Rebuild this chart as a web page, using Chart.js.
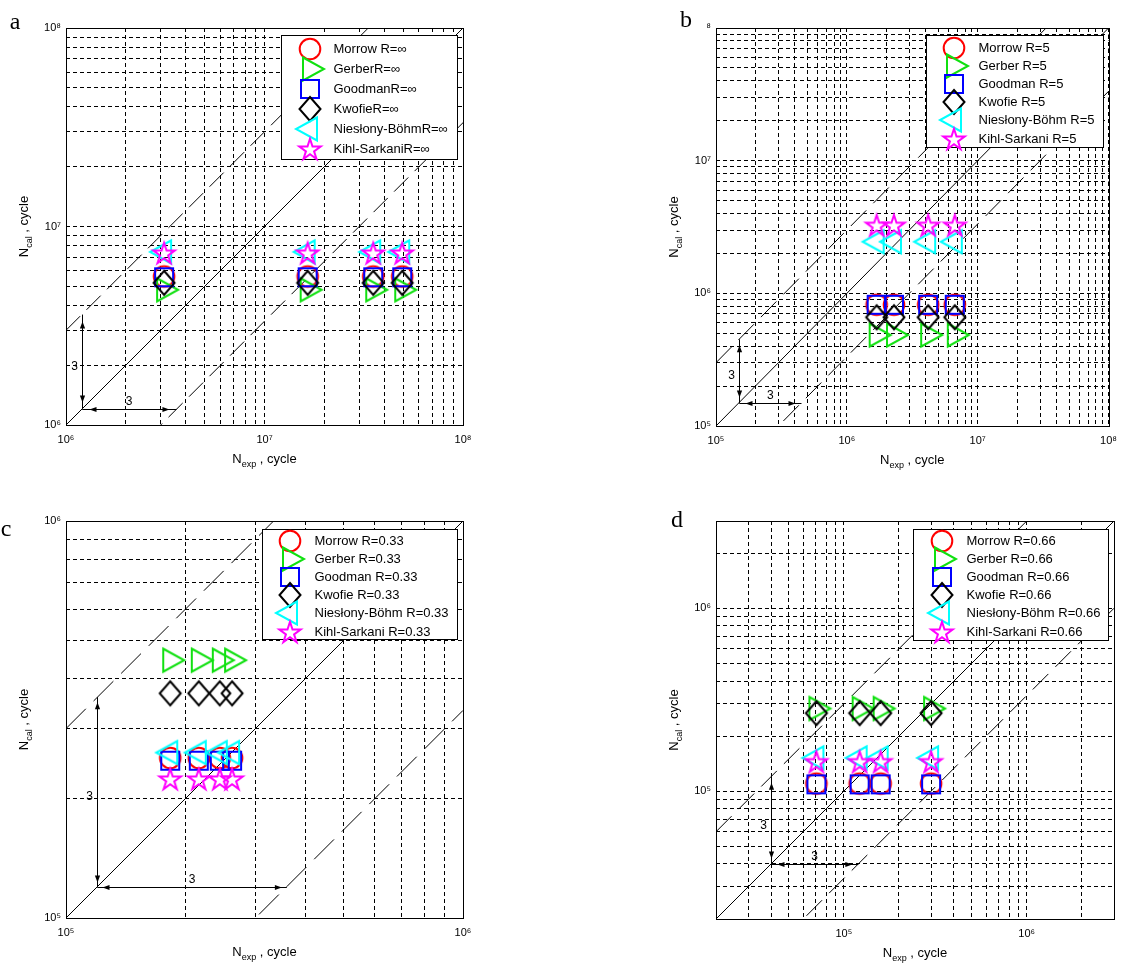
<!DOCTYPE html>
<html>
<head>
<meta charset="utf-8">
<script src="https://cdn.jsdelivr.net/npm/chart.js@4.4.1/dist/chart.umd.min.js"></script>
<style>
  html, body { margin: 0; padding: 0; background: #fff; }
  body { width: 1125px; height: 963px; position: relative; overflow: hidden; }
  canvas { position: absolute; }
</style>
</head>
<body>
<canvas id="pa"></canvas>
<canvas id="pb"></canvas>
<canvas id="pc"></canvas>
<canvas id="pd"></canvas>
<script>
// ---------- data: calculated vs experimental life, four mean-stress ratios ----------
const methodNames = ['Morrow', 'Gerber', 'Goodman', 'Kwofie', 'Niesłony-Böhm', 'Kihl-Sarkani'];

// (a) R = ∞
const expA     = [3.12e6, 1.65e7, 3.53e7, 4.94e7];
const morrowA  = [5.6e6, 5.6e6, 5.6e6, 5.6e6];
const gerberA  = [4.8e6, 4.8e6, 4.8e6, 4.8e6];
const goodmanA = [5.55e6, 5.55e6, 5.55e6, 5.55e6];
const kwofieA  = [5.2e6, 5.2e6, 5.2e6, 5.2e6];
const nbA      = [7.45e6, 7.45e6, 7.45e6, 7.45e6];
const ksA      = [7.35e6, 7.35e6, 7.35e6, 7.35e6];
const legendA  = ['Morrow R=∞', 'GerberR=∞', 'GoodmanR=∞', 'KwofieR=∞', 'Niesłony-BöhmR=∞', 'Kihl-SarkaniR=∞'];
const xRangeA = [1e6, 1e8], yRangeA = [1e6, 1e8];
const xTickValsA = [1e6, 1e7, 1e8], xTickLabelsA = ['10⁶', '10⁷', '10⁸'];
const yTickValsA = [1e6, 1e7, 1e8], yTickLabelsA = ['10⁶', '10⁷', '10⁸'];
const bandBaseA = 1.2e6;

// (b) R = 5
const expB     = [1.69e6, 2.29e6, 4.18e6, 6.68e6];
const morrowB  = [8.2e5, 8.2e5, 8.2e5, 8.2e5];
const gerberB  = [4.85e5, 4.85e5, 4.85e5, 4.85e5];
const goodmanB = [8.2e5, 8.2e5, 8.2e5, 8.2e5];
const kwofieB  = [6.6e5, 6.6e5, 6.6e5, 6.6e5];
const nbB      = [2.45e6, 2.45e6, 2.45e6, 2.45e6];
const ksB      = [3.26e6, 3.26e6, 3.26e6, 3.26e6];
const legendB  = ['Morrow R=5', 'Gerber R=5', 'Goodman R=5', 'Kwofie R=5', 'Niesłony-Böhm R=5', 'Kihl-Sarkani R=5'];
const xRangeB = [1e5, 1e8], yRangeB = [1e5, 1e8];
const xTickValsB = [1e5, 1e6, 1e7, 1e8], xTickLabelsB = ['10⁵', '10⁶', '10⁷', '10⁸'];
const yTickValsB = [1e5, 1e6, 1e7, 1e8], yTickLabelsB = ['10⁵', '10⁶', '10⁷', '⁸'];
const bandBaseB = 1.5e5;

// (c) R = 0.33
const expC     = [1.83e5, 2.16e5, 2.44e5, 2.62e5];
const morrowC  = [2.53e5, 2.53e5, 2.53e5, 2.53e5];
const gerberC  = [4.46e5, 4.46e5, 4.46e5, 4.46e5];
const goodmanC = [2.49e5, 2.49e5, 2.49e5, 2.49e5];
const kwofieC  = [3.68e5, 3.68e5, 3.68e5, 3.68e5];
const nbC      = [2.61e5, 2.61e5, 2.61e5, 2.61e5];
const ksC      = [2.24e5, 2.24e5, 2.24e5, 2.24e5];
const legendC  = ['Morrow R=0.33', 'Gerber R=0.33', 'Goodman R=0.33', 'Kwofie R=0.33', 'Niesłony-Böhm R=0.33', 'Kihl-Sarkani R=0.33'];
const xRangeC = [1e5, 1e6], yRangeC = [1e5, 1e6];
const xTickValsC = [1e5, 1e6], xTickLabelsC = ['10⁵', '10⁶'];
const yTickValsC = [1e5, 1e6], yTickLabelsC = ['10⁵', '10⁶'];
const bandBaseC = 1.2e5;

// (d) R = 0.66
const expD     = [7.08e4, 1.22e5, 1.59e5, 3.0e5];
const morrowD  = [1.1e5, 1.1e5, 1.1e5, 1.1e5];
const gerberD  = [2.83e5, 2.83e5, 2.83e5, 2.83e5];
const goodmanD = [1.09e5, 1.09e5, 1.09e5, 1.09e5];
const kwofieD  = [2.67e5, 2.67e5, 2.67e5, 2.67e5];
const nbD      = [1.52e5, 1.52e5, 1.52e5, 1.52e5];
const ksD      = [1.45e5, 1.45e5, 1.45e5, 1.45e5];
const legendD  = ['Morrow R=0.66', 'Gerber R=0.66', 'Goodman R=0.66', 'Kwofie R=0.66', 'Niesłony-Böhm R=0.66', 'Kihl-Sarkani R=0.66'];
const xRangeD = [2e4, 3e6], yRangeD = [2e4, 3e6];
const xTickValsD = [1e5, 1e6], xTickLabelsD = ['10⁵', '10⁶'];
const yTickValsD = [1e5, 1e6], yTickLabelsD = ['10⁵', '10⁶'];
const bandBaseD = 4e4;

const scatterFactor = 3;   // the ±3 life band

// ---------- styling ----------
const FONT  = '"Liberation Sans", "DejaVu Sans", Arial, sans-serif';
const SERIF = '"Liberation Serif", "DejaVu Serif", "Times New Roman", serif';
const COLORS = ['#ff0000', '#10e010', '#0000ff', '#000000', '#00ffff', '#ff00ff'];
const SHAPES = ['o', '>', 's', 'd', '<', 'p'];

// open marker glyphs in the classic plotting style
function markerCanvas(kind, color) {
  const S = 34, m = S / 2;
  const c = document.createElement('canvas');
  c.width = S; c.height = S;
  const g = c.getContext('2d');
  g.strokeStyle = color; g.lineWidth = 2; g.lineJoin = 'miter';
  g.beginPath();
  if (kind === 'o') {
    g.arc(m, m, 10.3, 0, Math.PI * 2);
  } else if (kind === 's') {
    g.rect(m - 9, m - 9, 18, 18);
  } else if (kind === 'd') {
    g.moveTo(m, m - 12); g.lineTo(m + 10.5, m); g.lineTo(m, m + 12); g.lineTo(m - 10.5, m); g.closePath();
  } else if (kind === '>' || kind === '<') {
    const L = 21, hb = 11.5, s = kind === '>' ? 1 : -1;
    g.moveTo(m - s * L / 3, m - hb); g.lineTo(m + s * 2 * L / 3, m); g.lineTo(m - s * L / 3, m + hb); g.closePath();
  } else if (kind === 'p') {
    const R = 11.2, r = R * 0.382;
    for (let i = 0; i < 10; i++) {
      const a = -Math.PI / 2 + i * Math.PI / 5, rr = i % 2 ? r : R;
      const x = m + rr * Math.cos(a), y = m + 1 + rr * Math.sin(a);
      i ? g.lineTo(x, y) : g.moveTo(x, y);
    }
    g.closePath();
  }
  g.stroke();
  return c;
}
const MARKERS = SHAPES.map((s, i) => markerCanvas(s, COLORS[i]));

function gridValues(lo, hi) {
  const out = [];
  for (let e = Math.floor(Math.log10(lo)); e <= Math.ceil(Math.log10(hi)); e++) {
    for (let k = 1; k <= 9; k++) {
      const v = k * Math.pow(10, e);
      if (v >= lo * 0.999 && v <= hi * 1.001) out.push(v);
    }
  }
  return out;
}

function logAxis(range, tickVals, tickLabels, isX, size) {
  return {
    type: 'logarithmic', min: range[0], max: range[1],
    afterBuildTicks: s => { s.ticks = gridValues(range[0], range[1]).map(v => ({ value: v })); },
    afterFit: s => { if (isX) s.height = size; else s.width = size; },
    ticks: {
      autoSkip: false, maxRotation: 0, minRotation: 0,
      padding: isX ? 8 : 5, color: '#000',
      font: { family: FONT, size: 11 },
      callback: v => {
        const i = tickVals.findIndex(t => Math.abs(t / v - 1) < 1e-6);
        return i < 0 ? '' : tickLabels[i];
      }
    },
    grid: { color: '#000', lineWidth: 1, drawTicks: false },
    border: { display: false, dash: [4, 3] }
  };
}

function drawArrowHead(ctx, tx, ty, dx, dy) {
  const L = 7, W = 2.6;
  const bx = tx - dx * L, by = ty - dy * L;
  ctx.beginPath();
  ctx.moveTo(tx, ty);
  ctx.lineTo(bx - dy * W, by + dx * W);
  ctx.lineTo(bx + dy * W, by - dx * W);
  ctx.closePath();
  ctx.fill();
}

function drawAxisTitle(ctx, x, y, sub, vertical) {
  ctx.save();
  ctx.font = `13px ${FONT}`;
  const wN = ctx.measureText('N').width, wT = ctx.measureText(' , cycle').width;
  ctx.font = `9px ${FONT}`;
  const wS = ctx.measureText(sub).width;
  ctx.translate(x, y);
  if (vertical) ctx.rotate(-Math.PI / 2);
  ctx.fillStyle = '#000'; ctx.textAlign = 'left'; ctx.textBaseline = 'alphabetic';
  let cx = -(wN + wS + wT) / 2;
  ctx.font = `13px ${FONT}`; ctx.fillText('N', cx, 0); cx += wN;
  ctx.font = `9px ${FONT}`; ctx.fillText(sub, cx, 4); cx += wS;
  ctx.font = `13px ${FONT}`; ctx.fillText(' , cycle', cx, 0);
  ctx.restore();
}

// frame, ±3 band arrows, boxed legend, titles and panel letter
function panelDecor(p) {
  return {
    id: 'decor' + p.id,
    beforeDatasetsDraw(chart) {
      const { ctx, scales: { x, y } } = chart;
      const b = p.band;
      const px = Math.round(x.getPixelForValue(b)) + 0.5, py = Math.round(y.getPixelForValue(b)) + 0.5;
      const px3 = x.getPixelForValue(b * scatterFactor), py3 = y.getPixelForValue(b * scatterFactor);
      ctx.save();
      ctx.strokeStyle = '#000'; ctx.fillStyle = '#000'; ctx.lineWidth = 1;
      ctx.beginPath();
      ctx.moveTo(px, py); ctx.lineTo(px, py3);
      ctx.moveTo(px, py); ctx.lineTo(px3, py);
      ctx.stroke();
      const inset = p.arrowInset;
      drawArrowHead(ctx, px, py3 + inset, 0, -1);
      drawArrowHead(ctx, px, py - inset, 0, 1);
      drawArrowHead(ctx, px + inset, py, -1, 0);
      drawArrowHead(ctx, px3 - inset, py, 1, 0);
      const midX = x.getPixelForValue(b * Math.sqrt(scatterFactor));
      const midY = y.getPixelForValue(b * Math.sqrt(scatterFactor));
      ctx.font = `12px ${FONT}`; ctx.textAlign = 'center'; ctx.textBaseline = 'middle';
      ctx.fillText('3', px - 8, midY + 5);
      ctx.fillText('3', midX, py - 8);
      ctx.restore();
    },
    afterDatasetsDraw(chart) {
      const { ctx, chartArea: a } = chart;
      ctx.save();
      // axes box
      ctx.strokeStyle = '#000'; ctx.lineWidth = 1;
      ctx.strokeRect(Math.round(a.left) + 0.5, Math.round(a.top) + 0.5,
                     Math.round(a.right) - Math.round(a.left), Math.round(a.bottom) - Math.round(a.top));
      // legend box
      const L = p.legend;
      const bx1 = Math.round(a.right - L.inset) + 0.5, by0 = Math.round(a.top + L.top) + 0.5;
      const bx0 = bx1 - L.width, by1 = by0 + L.height;
      ctx.fillStyle = '#fff';
      ctx.fillRect(bx0, by0, L.width, L.height);
      ctx.strokeRect(bx0, by0, L.width, L.height);
      ctx.font = `13px ${FONT}`; ctx.fillStyle = '#000';
      ctx.textAlign = 'left'; ctx.textBaseline = 'middle';
      p.labels.forEach((t, k) => {
        const ry = by0 + L.row0 + k * L.step;
        const img = MARKERS[k];
        ctx.drawImage(img, Math.round(bx0 + L.mark - img.width / 2), Math.round(ry - img.height / 2));
        ctx.fillText(t, bx0 + L.text, ry + 0.5);
      });
      ctx.restore();
    },
    afterDraw(chart) {
      const { ctx, chartArea: a } = chart;
      drawAxisTitle(ctx, (a.left + a.right) / 2, a.bottom + 38, 'exp', false);
      drawAxisTitle(ctx, a.left - 38, (a.top + a.bottom) / 2, 'cal', true);
      ctx.save();
      ctx.font = `24px ${SERIF}`; ctx.fillStyle = '#000';
      ctx.textAlign = 'center'; ctx.textBaseline = 'alphabetic';
      ctx.fillText(p.letter, p.letterPos[0], p.letterPos[1]);
      ctx.restore();
    }
  };
}

const panels = [
  { id: 'pa', letter: 'a', box: [0, 0, 562, 481], area: [66, 28, 463, 425],
    exp: expA, series: [morrowA, gerberA, goodmanA, kwofieA, nbA, ksA], labels: legendA,
    xr: xRangeA, yr: yRangeA, xtv: xTickValsA, xtl: xTickLabelsA, ytv: yTickValsA, ytl: yTickLabelsA,
    band: bandBaseA, dash: [20, 9], arrowInset: 7, letterPos: [15, 29],
    legend: { inset: 6, top: 7, width: 176, height: 124, row0: 13, step: 20.1, mark: 28, text: 52 } },
  { id: 'pb', letter: 'b', box: [562, 0, 563, 481], area: [716, 28, 1114, 426],
    exp: expB, series: [morrowB, gerberB, goodmanB, kwofieB, nbB, ksB], labels: legendB,
    xr: xRangeB, yr: yRangeB, xtv: xTickValsB, xtl: xTickLabelsB, ytv: yTickValsB, ytl: yTickLabelsB,
    band: bandBaseB, dash: [22, 10], arrowInset: 6, letterPos: [124, 27],
    legend: { inset: 6, top: 7, width: 177, height: 112, row0: 12, step: 18.2, mark: 27.5, text: 52 } },
  { id: 'pc', letter: 'c', box: [0, 481, 562, 482], area: [66, 521, 463, 918],
    exp: expC, series: [morrowC, gerberC, goodmanC, kwofieC, nbC, ksC], labels: legendC,
    xr: xRangeC, yr: yRangeC, xtv: xTickValsC, xtl: xTickLabelsC, ytv: yTickValsC, ytl: yTickLabelsC,
    band: bandBaseC, dash: [28, 11], arrowInset: 5, letterPos: [6, 55],
    legend: { inset: 6, top: 8, width: 195, height: 110, row0: 11, step: 18.2, mark: 27.5, text: 52 } },
  { id: 'pd', letter: 'd', box: [562, 481, 563, 482], area: [716, 521, 1114, 919],
    exp: expD, series: [morrowD, gerberD, goodmanD, kwofieD, nbD, ksD], labels: legendD,
    xr: xRangeD, yr: yRangeD, xtv: xTickValsD, xtl: xTickLabelsD, ytv: yTickValsD, ytl: yTickLabelsD,
    band: bandBaseD, dash: [22, 10], arrowInset: 6, letterPos: [115, 46],
    legend: { inset: 6, top: 8, width: 195, height: 111, row0: 11, step: 18.2, mark: 28, text: 53 } }
];

panels.forEach(p => {
  const cv = document.getElementById(p.id);
  const [bl, bt, bw, bh] = p.box;
  const [al, at, ar, ab] = p.area;
  cv.width = bw; cv.height = bh;
  cv.style.left = bl + 'px'; cv.style.top = bt + 'px';
  cv.style.width = bw + 'px'; cv.style.height = bh + 'px';

  const lo = Math.min(p.xr[0], p.yr[0]), hi = Math.max(p.xr[1], p.yr[1]);
  const refLine = (f, dash) => ({
    type: 'line', data: [{ x: lo, y: lo * f }, { x: hi, y: hi * f }],
    borderColor: '#000', borderWidth: 1, borderDash: dash, pointRadius: 0, order: 20
  });

  const datasets = [
    refLine(1, []),
    refLine(scatterFactor, p.dash),
    refLine(1 / scatterFactor, p.dash)
  ];
  p.series.forEach((vals, k) => {
    datasets.push({
      type: 'scatter', label: p.labels[k],
      data: p.exp.map((xv, i) => ({ x: xv, y: vals[i] })),
      pointStyle: MARKERS[k], pointRadius: 10, pointHoverRadius: 10,
      order: 10 - k
    });
  });

  new Chart(cv, {
    type: 'scatter',
    data: { datasets },
    options: {
      responsive: false, devicePixelRatio: 1, animation: false, events: [],
      layout: { padding: { left: 0, top: at - bt, right: bl + bw - ar, bottom: 0 } },
      scales: {
        x: logAxis(p.xr, p.xtv, p.xtl, true, bt + bh - ab),
        y: logAxis(p.yr, p.ytv, p.ytl, false, al - bl)
      },
      plugins: { legend: { display: false }, tooltip: { enabled: false } }
    },
    plugins: [panelDecor(p)]
  });
});
</script>
</body>
</html>
